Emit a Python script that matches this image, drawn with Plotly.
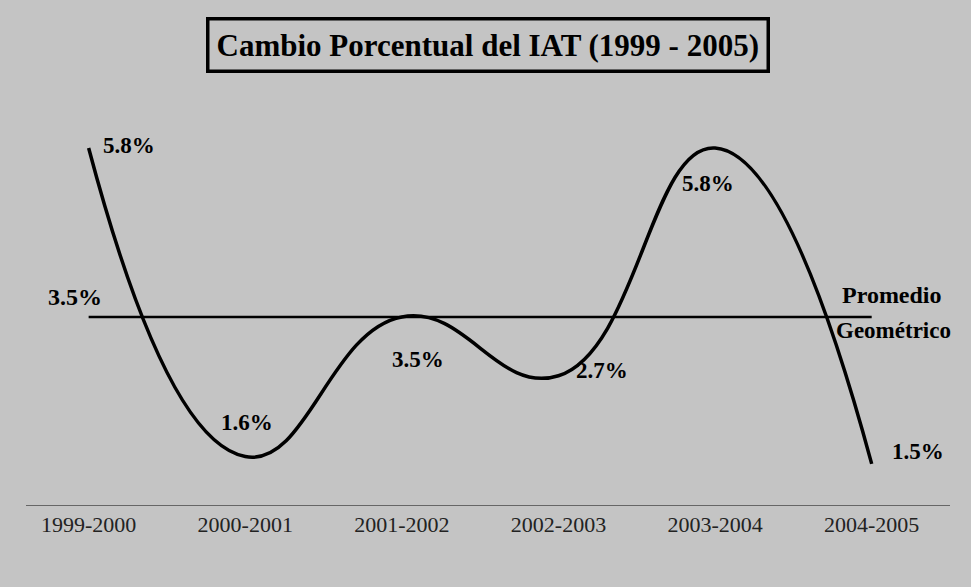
import plotly.graph_objects as go

periods = ["1999-2000", "2000-2001", "2001-2002", "2002-2003", "2003-2004", "2004-2005"]
pct_change = [5.8, 1.6, 3.5, 2.7, 5.8, 1.5]
geo_mean = 3.5
title_text = "Cambio Porcentual del IAT (1999 - 2005)"
avg_label = "3.5%"

BG = "#c4c4c4"
SERIF = "Liberation Serif, Times New Roman, serif"

fig = go.Figure()

fig.add_trace(go.Scatter(
    x=periods, y=[geo_mean] * len(periods), mode="lines",
    line=dict(color="black", width=2.5), hoverinfo="skip", showlegend=False))

fig.add_trace(go.Scatter(
    x=periods, y=pct_change, mode="lines",
    line=dict(color="black", width=3.5, shape="spline", smoothing=1.3),
    showlegend=False))

# data labels: (xanchor, xshift, yshift)
label_pos = [
    ("left", 12, 2),
    ("center", 2, 34),
    ("center", 16, -43),
    ("left", 16, 5),
    ("center", -7, -36),
    ("left", 18, 12),
]
for p, v, (xa, xs, ys) in zip(periods, pct_change, label_pos):
    fig.add_annotation(x=p, y=v, text=f"<b>{v:.1f}%</b>", showarrow=False,
                       xanchor=xa, yanchor="middle", xshift=xs, yshift=ys,
                       font=dict(family=SERIF, size=23, color="black"))

fig.add_annotation(x=periods[0], y=geo_mean, text=f"<b>{avg_label}</b>", showarrow=False,
                   xanchor="right", yanchor="middle", xshift=15, yshift=20,
                   font=dict(family=SERIF, size=24, color="black"))
fig.add_annotation(x=periods[-1], y=geo_mean, text="<b>Promedio</b>", showarrow=False,
                   xanchor="center", yanchor="middle", xshift=20, yshift=22,
                   font=dict(family=SERIF, size=24, color="black"))
fig.add_annotation(x=periods[-1], y=geo_mean, text="<b>Geométrico</b>", showarrow=False,
                   xanchor="center", yanchor="middle", xshift=22, yshift=-14,
                   font=dict(family=SERIF, size=23, color="black"))

fig.add_annotation(xref="paper", yref="paper", x=0.5, y=1.0, yshift=67,
                   text=f"<b>{title_text}</b>", showarrow=False,
                   xanchor="center", yanchor="middle",
                   font=dict(family=SERIF, size=31, color="black"),
                   bordercolor="black", borderwidth=3.5, borderpad=7, bgcolor=BG)

fig.update_layout(
    width=971, height=587,
    margin=dict(l=26, r=21, t=112, b=82),
    paper_bgcolor=BG, plot_bgcolor=BG,
    xaxis=dict(type="category", range=[-0.4, 5.5], showgrid=False, zeroline=False,
               showline=True, linecolor="#666666", linewidth=1, ticks="",
               tickfont=dict(family=SERIF, size=22, color="#222222")),
    yaxis=dict(range=[0.94, 6.29], showgrid=False, zeroline=False,
               showticklabels=False, showline=False),
)

fig.write_html("out.html", config={"displayModeBar": False},
               post_script="document.body.style.margin='0';")
